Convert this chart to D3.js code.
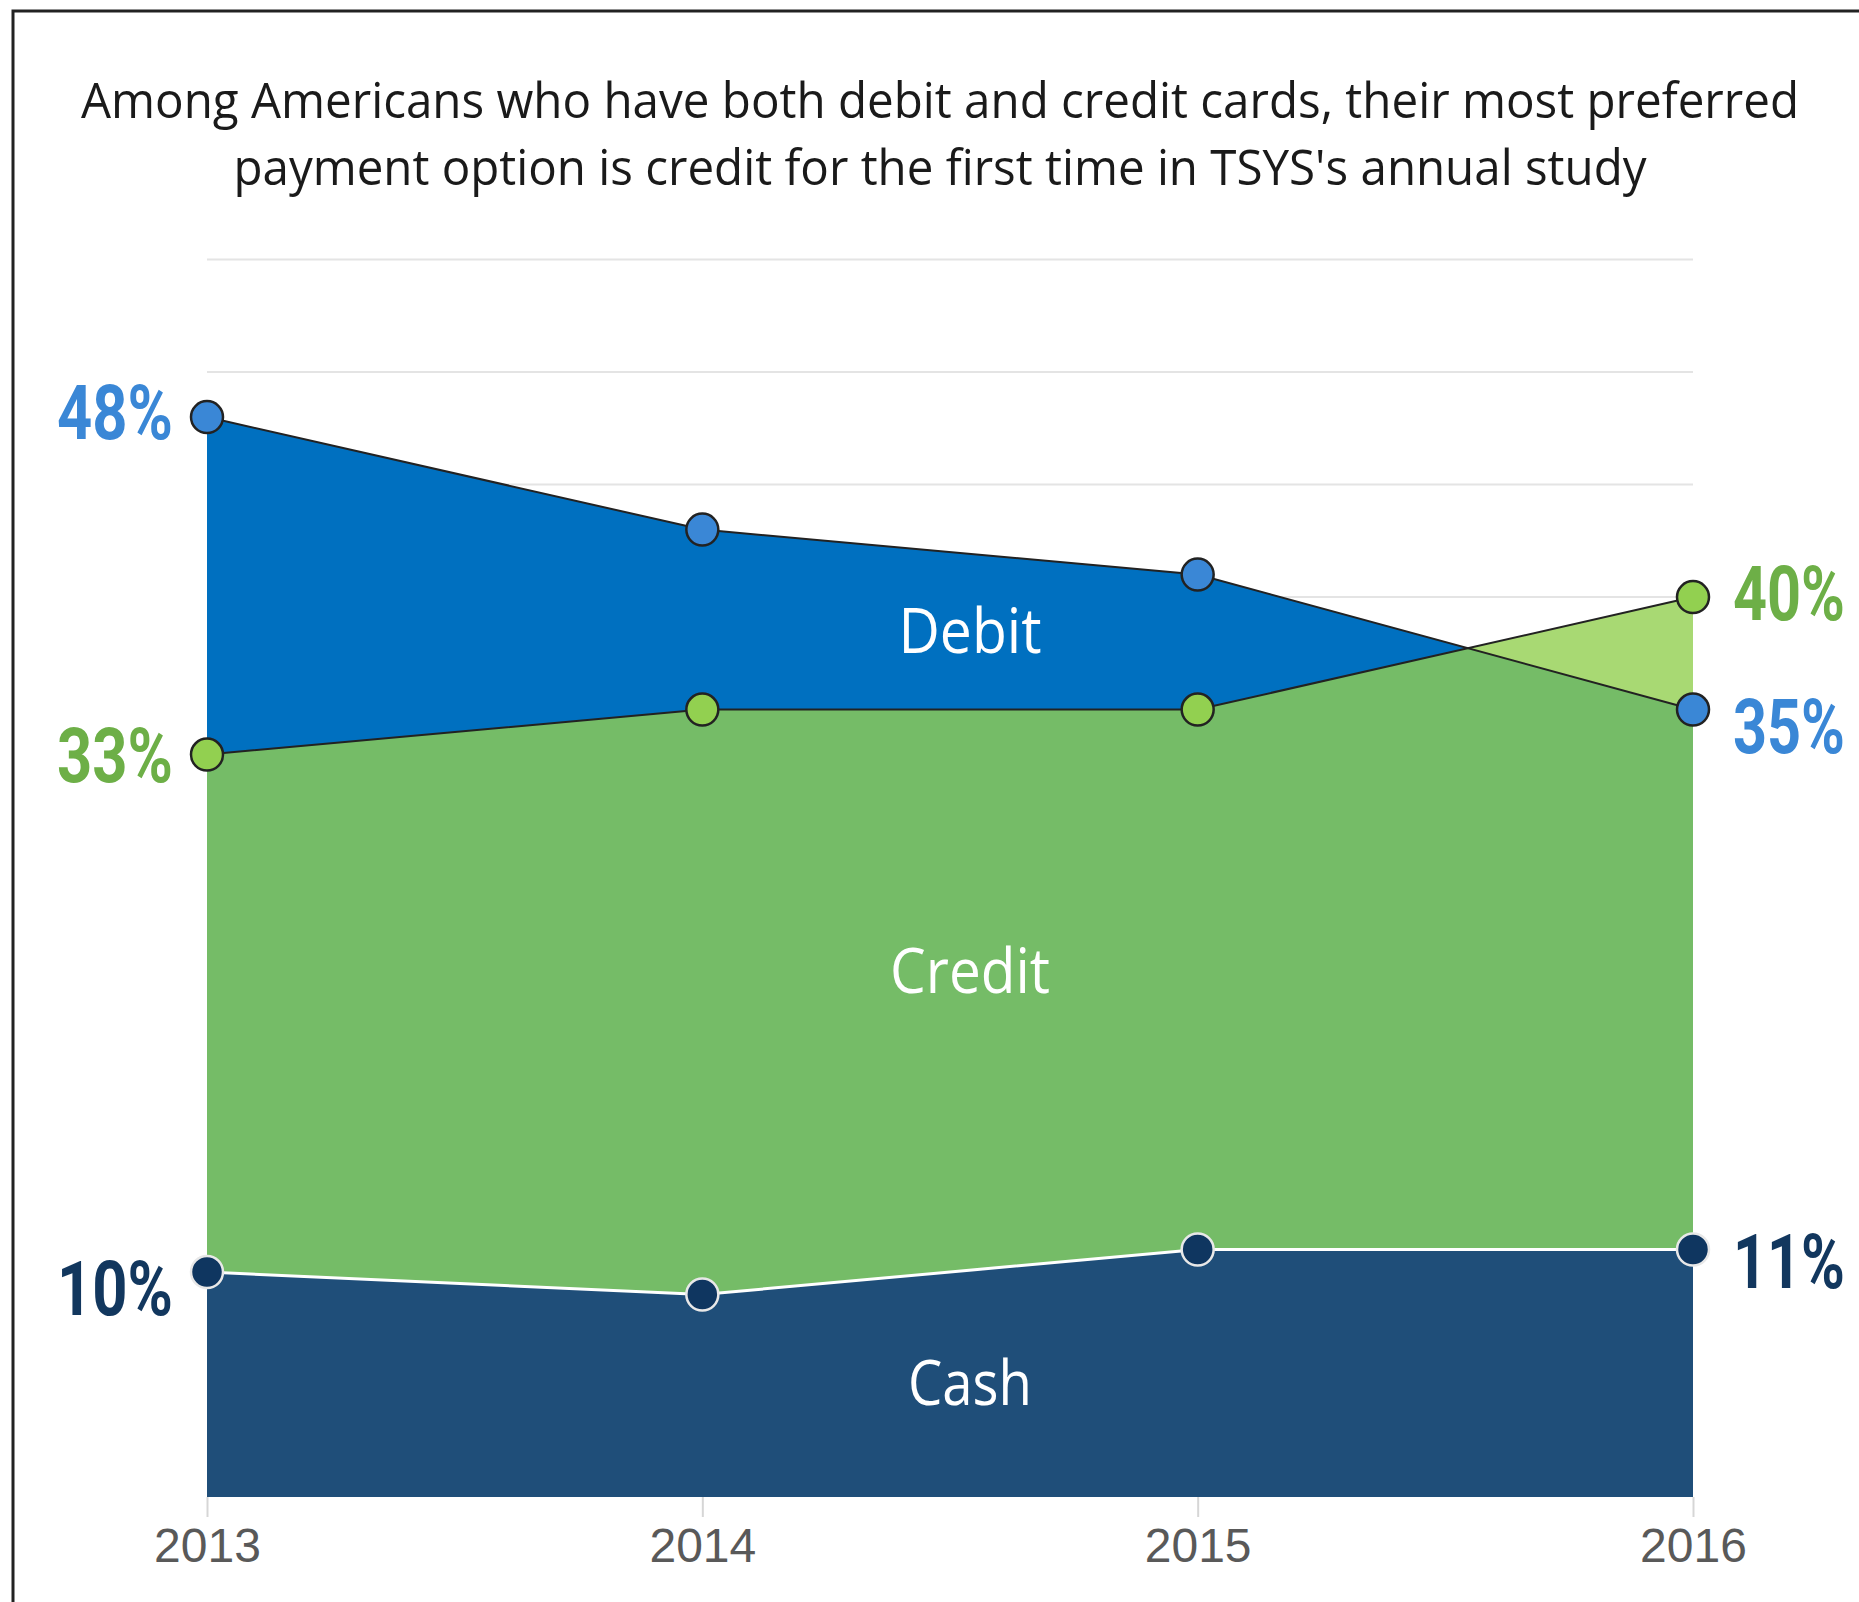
<!DOCTYPE html>
<html>
<head>
<meta charset="utf-8">
<script src="https://cdn.jsdelivr.net/npm/d3@7"></script>
<style>
    body { margin:0; background:#fff; }
</style>
</head>
<body>
<script>
        // the numbers
        var years = ["2013","2014","2015","2016"]
        var debit = [48,43,41,35]
        var credit = [33,35,35,40]
        var cash = [10,9,11,11]
        var gridValues = [5,10,15,20,25,30,35,40,45,50,55]
        var titleLines = ["Among Americans who have both debit and credit cards, their most preferred",
                          "payment option is credit for the first time in TSYS's annual study"]

        var width = 1859
        var height = 1602

        var svg = d3.select("body")
            .append("svg")
            .attr("width",width)
            .attr("height",height)

        // frame, only left and top show in the picture
        svg.append("rect")
            .attr("x",13).attr("y",11)
            .attr("width",width+50).attr("height",height+50)
            .attr("fill","none")
            .attr("stroke","#222")
            .attr("stroke-width",3)

        // title
        var titleWidths = [1718,1413]
        svg.selectAll(".title")
            .data(titleLines)
            .enter()
            .append("text")
            .attr("class","title")
            .attr("x",940)
            .attr("y",function(d,i){ return 118 + i*67 })
            .attr("text-anchor","middle")
            .attr("font-family","'Open Sans', sans-serif")
            .attr("font-size",50)
            .attr("fill","#1a1a1a")
            .attr("textLength",function(d,i){ return titleWidths[i] })
            .attr("lengthAdjust","spacingAndGlyphs")
            .text(function(d){ return d })

        var x = d3.scalePoint().domain(years).range([207,1693])
        var y = d3.scaleLinear().domain([0,55]).range([1497,259.6])

        // gridlines sit behind the areas
        svg.selectAll(".grid")
            .data(gridValues)
            .enter()
            .append("line")
            .attr("x1",x(years[0]))
            .attr("x2",x(years[years.length-1]))
            .attr("y1",function(d){ return y(d) })
            .attr("y2",function(d){ return y(d) })
            .attr("stroke","#e4e4e4")
            .attr("stroke-width",2)

        function series(vals){
            return years.map(function(yr,i){ return {year:yr, v:vals[i]} })
        }

        var area = d3.area()
            .x(function(d){ return x(d.year) })
            .y0(y(0))
            .y1(function(d){ return y(d.v) })
        var line = d3.line()
            .x(function(d){ return x(d.year) })
            .y(function(d){ return y(d.v) })

        var debitData = series(debit)
        var creditData = series(credit)
        var cashData = series(cash)

        // debit first, credit see-through on top gives the two greens
        svg.append("path").attr("d",area(debitData)).attr("fill","#0070C0")
        svg.append("path").attr("d",area(creditData)).attr("fill","#92D050").attr("fill-opacity",0.8)

        svg.append("path").attr("d",line(debitData)).attr("fill","none").attr("stroke","#222").attr("stroke-width",2)
        svg.append("path").attr("d",line(creditData)).attr("fill","none").attr("stroke","#222").attr("stroke-width",2)

        svg.append("path").attr("d",area(cashData)).attr("fill","#1F4E79")
        svg.append("path").attr("d",line(cashData)).attr("fill","none").attr("stroke","#fff").attr("stroke-width",3)

        // x axis
        var xAxis = svg.append("g")
            .attr("transform","translate(0,"+y(0)+")")
            .call(d3.axisBottom(x).tickSize(20).tickPadding(11))
        xAxis.select(".domain").remove()
        xAxis.selectAll("line").attr("stroke","#d6d6d6").attr("stroke-width",2)
        xAxis.selectAll("text")
            .attr("font-family","'Liberation Sans', Arial, sans-serif")
            .attr("font-size",48)
            .attr("fill","#595959")

        // markers
        function dots(data,fill,stroke){
            svg.append("g").selectAll("circle")
                .data(data)
                .enter()
                .append("circle")
                .attr("cx",function(d){ return x(d.year) })
                .attr("cy",function(d){ return y(d.v) })
                .attr("r",16)
                .attr("fill",fill)
                .attr("stroke",stroke)
                .attr("stroke-width",2.5)
        }
        dots(debitData,"#3A87D6","#222")
        dots(creditData,"#92D050","#222")
        dots(cashData,"#0F3660","#e8e8e8")

        // end value labels, shifted down a bit differently on each side like the original
        function endLabels(data,color,leftShift,rightShift){
            var first = data[0], last = data[data.length-1]
            svg.append("text")
                .attr("x",173)
                .attr("y",y(first.v)+leftShift)
                .attr("text-anchor","end")
                .attr("font-family","Roboto, sans-serif")
                .attr("font-weight",700)
                .attr("font-size",76)
                .attr("fill",color)
                .attr("textLength",116)
                .attr("lengthAdjust","spacingAndGlyphs")
                .text(first.v+"%")
            svg.append("text")
                .attr("x",1733)
                .attr("y",y(last.v)+rightShift)
                .attr("text-anchor","start")
                .attr("font-family","Roboto, sans-serif")
                .attr("font-weight",700)
                .attr("font-size",76)
                .attr("fill",color)
                .attr("textLength",112)
                .attr("lengthAdjust","spacingAndGlyphs")
                .text(last.v+"%")
        }
        endLabels(debitData,"#3A87D6",22,43)
        endLabels(creditData,"#6DAF47",27,23)
        endLabels(cashData,"#12375E",43,38)

        // names inside the areas
        var mid = (x(years[0]) + x(years[years.length-1]))/2 + 20
        var names = [["Debit",37.5,143],["Credit",22.4,160],["Cash",4.1,124]]
        svg.selectAll(".name")
            .data(names)
            .enter()
            .append("text")
            .attr("class","name")
            .attr("x",mid)
            .attr("y",function(d){ return y(d[1]) })
            .attr("text-anchor","middle")
            .attr("font-family","'Open Sans', sans-serif")
            .attr("font-size",62)
            .attr("fill","#fff")
            .attr("textLength",function(d){ return d[2] })
            .attr("lengthAdjust","spacingAndGlyphs")
            .text(function(d){ return d[0] })
</script>
</body>
</html>
